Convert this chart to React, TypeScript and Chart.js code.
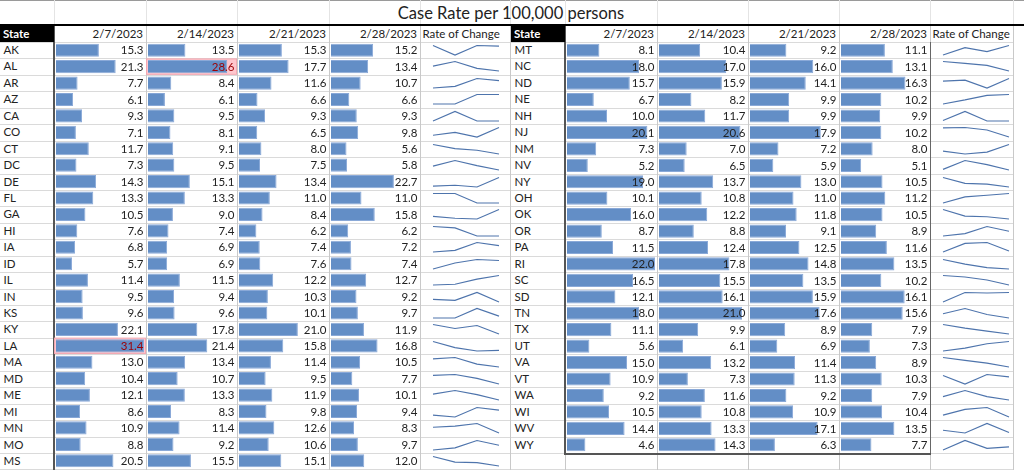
import React, { useEffect, useRef } from "react";
import { Chart, registerables } from "chart.js";

Chart.register(...registerables);

// ---------------- data ----------------
const title = "Case Rate per 100,000 persons";
const stateHeader = "State";
const trendHeader = "Rate of Change";
const dates = ["2/7/2023", "2/14/2023", "2/21/2023", "2/28/2023"];

const states = [
  "AK", "AL", "AR", "AZ", "CA", "CO", "CT", "DC", "DE", "FL", "GA", "HI", "IA",
  "ID", "IL", "IN", "KS", "KY", "LA", "MA", "MD", "ME", "MI", "MN", "MO", "MS",
  "MT", "NC", "ND", "NE", "NH", "NJ", "NM", "NV", "NY", "OH", "OK", "OR", "PA",
  "RI", "SC", "SD", "TN", "TX", "UT", "VA", "VT", "WA", "WI", "WV", "WY",
];

const rateFeb07 = [
  15.3, 21.3, 7.7, 6.1, 9.3, 7.1, 11.7, 7.3, 14.3, 13.3, 10.5, 7.6, 6.8,
  5.7, 11.4, 9.5, 9.6, 22.1, 31.4, 13.0, 10.4, 12.1, 8.6, 10.9, 8.8, 20.5,
  8.1, 18.0, 15.7, 6.7, 10.0, 20.1, 7.3, 5.2, 19.0, 10.1, 16.0, 8.7, 11.5,
  22.0, 16.5, 12.1, 18.0, 11.1, 5.6, 15.0, 10.9, 9.2, 10.5, 14.4, 4.6,
];
const rateFeb14 = [
  13.5, 28.6, 8.4, 6.1, 9.5, 8.1, 9.1, 9.5, 15.1, 13.3, 9.0, 7.4, 6.9,
  6.9, 11.5, 9.4, 9.6, 17.8, 21.4, 13.4, 10.7, 13.3, 8.3, 11.4, 9.2, 15.5,
  10.4, 17.0, 15.9, 8.2, 11.7, 20.6, 7.0, 6.5, 13.7, 10.8, 12.2, 8.8, 12.4,
  17.8, 15.5, 16.1, 21.0, 9.9, 6.1, 13.2, 7.3, 11.6, 10.8, 13.3, 14.3,
];
const rateFeb21 = [
  15.3, 17.7, 11.6, 6.6, 9.3, 6.5, 8.0, 7.5, 13.4, 11.0, 8.4, 6.2, 7.4,
  7.6, 12.2, 10.3, 10.1, 21.0, 15.8, 11.4, 9.5, 11.9, 9.8, 12.6, 10.6, 15.1,
  9.2, 16.0, 14.1, 9.9, 9.9, 17.9, 7.2, 5.9, 13.0, 11.0, 11.8, 9.1, 12.5,
  14.8, 13.5, 15.9, 17.6, 8.9, 6.9, 11.4, 11.3, 9.2, 10.9, 17.1, 6.3,
];
const rateFeb28 = [
  15.2, 13.4, 10.7, 6.6, 9.3, 9.8, 5.6, 5.8, 22.7, 11.0, 15.8, 6.2, 7.2,
  7.4, 12.7, 9.2, 9.7, 11.9, 16.8, 10.5, 7.7, 10.1, 9.4, 8.3, 9.7, 12.0,
  11.1, 13.1, 16.3, 10.2, 9.9, 10.2, 8.0, 5.1, 10.5, 11.2, 10.5, 8.9, 11.6,
  13.5, 10.2, 16.1, 15.6, 7.9, 7.3, 8.9, 10.3, 7.9, 10.4, 13.5, 7.7,
];

const leftPanelCount = 26; // AK..MS on the left, MT..WY on the right
const highlightAbove = 25; // conditional formatting threshold

// ---------------- layout / style ----------------
const FONT = "Lato, 'Open Sans', sans-serif";
const ROW_TOP = 42;
const ROW_H = 16.44;
const TOTAL_ROWS = 26;
const BAR_FILL = "#638EC6";
const BAR_EDGE = "#8AA9D8";
const LINE_COLOR = "#4E74AC";
const GRID = "#dadada";
const COL_LINE = "#c9c9c9";

const panels = [
  { edges: [0, 54, 146, 237, 329, 420, 510], start: 0, end: leftPanelCount },
  { edges: [511, 565, 657, 748, 839, 930, 1013], start: leftPanelCount, end: states.length },
];

const series = [rateFeb07, rateFeb14, rateFeb21, rateFeb28];

const cellPlugin = {
  id: "cellText",
  beforeDatasetsDraw(chart: any) {
    const meta = chart.getDatasetMeta(0);
    const vals = chart.data.datasets[0].data as number[];
    const ctx = chart.ctx;
    const step = chart.chartArea.height / vals.length;
    ctx.save();
    meta.data.forEach((bar: any, i: number) => {
      if (vals[i] > highlightAbove) {
        const top = bar.y - step / 2;
        ctx.fillStyle = "#FFC7CE";
        ctx.fillRect(0.5, top + 0.5, chart.width - 1, step - 1);
        ctx.strokeStyle = "#F3A7B2";
        ctx.lineWidth = 1;
        ctx.strokeRect(0.5, top + 0.5, chart.width - 1, step - 1);
      }
    });
    ctx.restore();
  },
  afterDatasetsDraw(chart: any) {
    const meta = chart.getDatasetMeta(0);
    const vals = chart.data.datasets[0].data as number[];
    const ctx = chart.ctx;
    ctx.save();
    ctx.font = `11.5px ${FONT}`;
    ctx.textAlign = "right";
    ctx.textBaseline = "middle";
    meta.data.forEach((bar: any, i: number) => {
      ctx.fillStyle = vals[i] > highlightAbove ? "#9C0006" : "#222222";
      ctx.fillText(vals[i].toFixed(1), chart.width - 2.5, bar.y + 0.5);
    });
    ctx.restore();
  },
};

function rowY(i: number) {
  return ROW_TOP + i * ROW_H;
}

export default function App() {
  const barRefs = useRef<(HTMLCanvasElement | null)[]>([]);
  const sparkRefs = useRef<(HTMLCanvasElement | null)[]>([]);

  useEffect(() => {
    document.body.style.margin = "0";
    const charts: Chart[] = [];
    panels.forEach((p, pi) => {
      const rows = states.slice(p.start, p.end);
      const panelMax = Math.max(...series.flatMap((s) => s.slice(p.start, p.end)));
      series.forEach((s, di) => {
        const cv = barRefs.current[pi * 4 + di];
        if (!cv) return;
        charts.push(
          new Chart(cv, {
            type: "bar",
            data: {
              labels: rows,
              datasets: [
                {
                  data: s.slice(p.start, p.end),
                  backgroundColor: BAR_FILL,
                  borderColor: BAR_EDGE,
                  borderWidth: 1,
                  barPercentage: 0.8,
                  categoryPercentage: 1,
                },
              ],
            },
            options: {
              indexAxis: "y",
              animation: false,
              responsive: false,
              events: [],
              layout: { padding: { left: 2, right: 2, top: 0, bottom: 0 } },
              scales: {
                x: { display: false, min: 0, max: panelMax },
                y: { display: false },
              },
              plugins: { legend: { display: false }, tooltip: { enabled: false } },
            },
            plugins: [cellPlugin],
          } as any)
        );
      });
      rows.forEach((_st, ri) => {
        const idx = p.start + ri;
        const vals = series.map((s) => s[idx]);
        const cv = sparkRefs.current[idx];
        if (!cv) return;
        charts.push(
          new Chart(cv, {
            type: "line",
            data: {
              labels: dates,
              datasets: [
                {
                  data: vals,
                  borderColor: LINE_COLOR,
                  borderWidth: 1.2,
                  pointRadius: 0,
                  tension: 0,
                  clip: false,
                },
              ],
            },
            options: {
              animation: false,
              responsive: false,
              events: [],
              layout: { padding: { left: 2, right: 2, top: 2.5, bottom: 2 } },
              scales: {
                x: { display: false },
                y: { display: false, min: Math.min(...vals), max: Math.max(...vals) },
              },
              plugins: { legend: { display: false }, tooltip: { enabled: false } },
            },
          } as any)
        );
      });
    });
    return () => charts.forEach((c) => c.destroy());
  }, []);

  const abs = (l: number, t: number, w: number, h: number, extra: React.CSSProperties = {}): React.CSSProperties => ({
    position: "absolute",
    left: l,
    top: t,
    width: w,
    height: h,
    ...extra,
  });

  const els: React.ReactNode[] = [];

  // top grey line and stubs
  els.push(<div key="topline" style={abs(0, 0, 1024, 1, { background: "#9a9a9a" })} />);
  // horizontal row grid lines
  for (let i = 0; i <= TOTAL_ROWS; i++) {
    els.push(<div key={"h" + i} style={abs(0, Math.round(rowY(i)), 1013, 1, { background: GRID })} />);
  }
  // vertical column lines
  panels.forEach((p, pi) => {
    p.edges.forEach((x, ei) => {
      if (ei === 0) return;
      els.push(<div key={`v${pi}-${ei}`} style={abs(x, 26, 1, 444, { background: COL_LINE })} />);
      els.push(<div key={`vs${pi}-${ei}`} style={abs(x, 0, 1, 24, { background: "#e4e4e4" })} />);
    });
  });
  // left panel thick border
  els.push(<div key="lb" style={abs(53, 26, 2, 444, { background: "#555" })} />);
  // right panel box
  const rb = Math.round(rowY(states.length - leftPanelCount));
  els.push(<div key="rbl" style={abs(564, 26, 2, rb - 26 + 1, { background: "#555" })} />);
  els.push(<div key="rbr" style={abs(930, 42, 1, rb - 42 + 1, { background: "#666" })} />);
  els.push(<div key="rbb" style={abs(564, rb, 367, 2, { background: "#555" })} />);

  // title
  els.push(
    <div
      key="title"
      style={abs(0, 2, 1022, 22, {
        textAlign: "center",
        fontSize: 16.5,
        lineHeight: "22px",
        color: "#222",
        background: "transparent",
      })}
    >
      {title}
    </div>
  );
  els.push(<div key="blackline" style={abs(0, 24, 1024, 2, { background: "#000" })} />);

  panels.forEach((p, pi) => {
    const e = p.edges;
    // header
    els.push(
      <div
        key={`sh${pi}`}
        style={abs(e[0], 26, e[1] - e[0], 16, {
          background: "#000",
          color: "#fff",
          fontWeight: 700,
          fontSize: 11.5,
          lineHeight: "16px",
          paddingLeft: 3,
          boxSizing: "border-box",
        })}
      >
        {stateHeader}
      </div>
    );
    dates.forEach((d, di) => {
      els.push(
        <div
          key={`dh${pi}-${di}`}
          style={abs(e[di + 1], 26, e[di + 2] - e[di + 1] - 3, 16, {
            textAlign: "right",
            fontSize: 11.5,
            lineHeight: "16px",
            color: "#222",
          })}
        >
          {d}
        </div>
      );
    });
    els.push(
      <div
        key={`rh${pi}`}
        style={abs(e[5] + 2.5, 26, e[6] - e[5], 16, {
          fontSize: 11.5,
          lineHeight: "16px",
          color: "#222",
          whiteSpace: "nowrap",
        })}
      >
        {trendHeader}
      </div>
    );
    // state labels
    states.slice(p.start, p.end).forEach((st, ri) => {
      els.push(
        <div
          key={`st${pi}-${ri}`}
          style={abs(e[0] + 3.5, rowY(ri), 40, ROW_H, {
            fontSize: 11.5,
            lineHeight: `${ROW_H}px`,
            color: "#222",
          })}
        >
          {st}
        </div>
      );
    });
  });

  // chart canvases
  const canv: React.ReactNode[] = [];
  panels.forEach((p, pi) => {
    const n = p.end - p.start;
    const h = Math.round(n * ROW_H);
    for (let di = 0; di < 4; di++) {
      const l = p.edges[di + 1];
      const w = p.edges[di + 2] - l;
      canv.push(
        <canvas
          key={`bar${pi}-${di}`}
          ref={(el) => {
            barRefs.current[pi * 4 + di] = el;
          }}
          width={w}
          height={h}
          style={{ position: "absolute", left: l, top: ROW_TOP, width: w, height: h }}
        />
      );
    }
    for (let ri = 0; ri < n; ri++) {
      const idx = p.start + ri;
      canv.push(
        <canvas
          key={`sp${idx}`}
          ref={(el) => {
            sparkRefs.current[idx] = el;
          }}
          width={70}
          height={14}
          style={{
            position: "absolute",
            left: p.edges[5] + 11,
            top: Math.round(rowY(ri)) + 1,
            width: 70,
            height: 14,
          }}
        />
      );
    }
  });

  return (
    <div
      style={{
        position: "fixed",
        left: 0,
        top: 0,
        width: 1024,
        height: 470,
        overflow: "hidden",
        background: "#fff",
        fontFamily: FONT,
      }}
    >
      {els}
      {canv}
    </div>
  );
}
